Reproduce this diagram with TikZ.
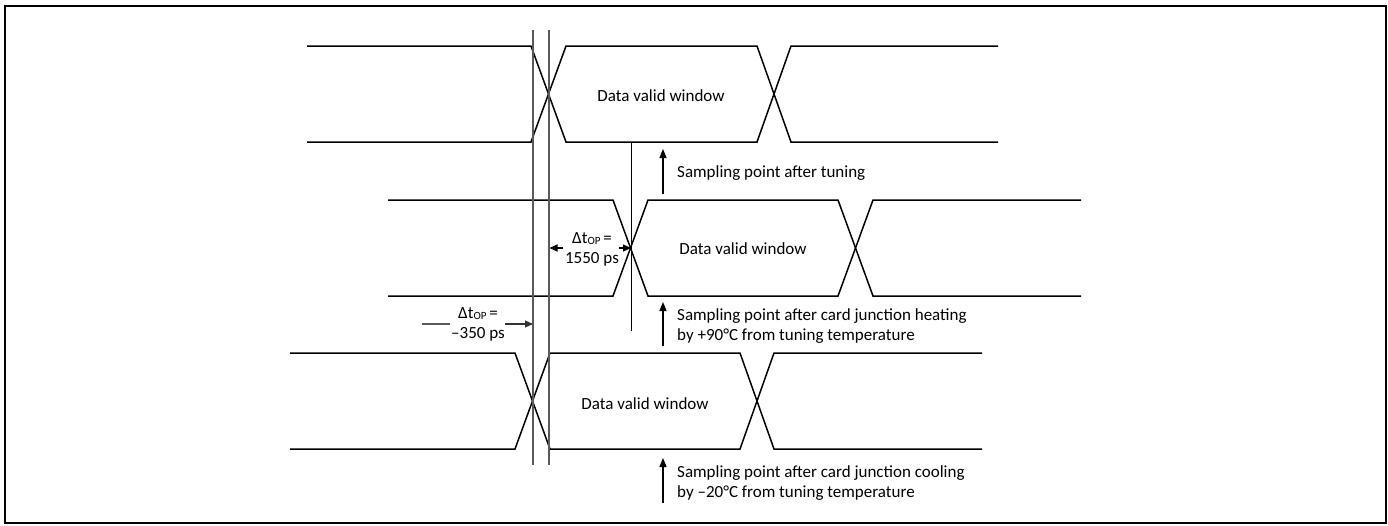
\documentclass[tikz,border=0pt]{standalone}
\usepackage{fontspec}
\setmainfont{Carlito}
\usetikzlibrary{arrows.meta}
\newcommand{\dtop}{Δt\raisebox{-1.5pt}{\fontsize{11}{11}\selectfont OP}\,=}
\begin{document}
\begin{tikzpicture}[x=1pt,y=-1pt,
  sig/.style={line width=1.5pt, line join=miter},
  refl/.style={line width=1.1pt, draw=black!65},
  lbl/.style={font=\fontsize{17}{20.4}\selectfont, inner sep=0pt},
  arr/.style={line width=1.3pt,-{Triangle[length=9pt,width=7pt]}},
  darr/.style={line width=1.1pt,-{Triangle[length=8pt,width=7pt]}}
]
\useasboundingbox (0,0) rectangle (1388,525);
\draw[line width=2pt] (5,6) rectangle (1385.5,523);

% row 1
\draw[sig] (307,46) -- (531,46) -- (566,142) -- (757,142) -- (791,46) -- (998,46);
\draw[sig] (307,142) -- (531,142) -- (566,46) -- (757,46) -- (791,142) -- (998,142);
\node[lbl] (w1) at (661,96) {Data valid window};

% row 2
\draw[sig] (388,200) -- (613,200) -- (648,296) -- (838,296) -- (873,200) -- (1081,200);
\draw[sig] (388,296) -- (613,296) -- (648,200) -- (838,200) -- (873,296) -- (1081,296);
\node[lbl] (w2) at (743,249) {Data valid window};

% row 3
\draw[sig] (290,353) -- (515,353) -- (550,449) -- (740,449) -- (774,353) -- (982,353);
\draw[sig] (290,449) -- (515,449) -- (550,353) -- (740,353) -- (774,449) -- (982,449);
\node[lbl] (w3) at (645,404) {Data valid window};

% reference vertical lines
\coordinate (v1t) at (533,30); \coordinate (v1b) at (533,465);
\coordinate (v2t) at (549,30); \coordinate (v2b) at (549,465);
\draw[refl] (v1t) -- (v1b);
\draw[refl] (v2t) -- (v2b);

% sampling line
\coordinate (st) at (631,142); \coordinate (sb) at (631,331);
\draw[line width=0.9pt] (st) -- (sb);

% sampling arrows and labels
\coordinate (a1b) at (663,194); \coordinate (a1t) at (663,149);
\coordinate (a2b) at (663,346); \coordinate (a2t) at (663,302);
\coordinate (a3b) at (663,503); \coordinate (a3t) at (663,458);
\draw[arr] (a1b) -- (a1t);
\draw[arr] (a2b) -- (a2t);
\draw[arr] (a3b) -- (a3t);
\node[lbl, anchor=west] (s1) at (677,173) {Sampling point after tuning};
\node[lbl, anchor=west, align=left] (s2) at (677,326) {Sampling point after card junction heating\\by +90°C from tuning temperature};
\node[lbl, anchor=west, align=left] (s3) at (677,483) {Sampling point after card junction cooling\\by –20°C from tuning temperature};

% delta t labels
\node[lbl, align=center] (d1) at (592,249.5) {\dtop\\1550 ps};
\coordinate (d1l) at (563,248); \coordinate (d1lt) at (549.5,248);
\coordinate (d1r) at (619,248); \coordinate (d1rt) at (631,248);
\draw[darr] (d1l) -- (d1lt);
\draw[darr] (d1r) -- (d1rt);

\node[lbl, align=center] (d2) at (478,324.5) {\dtop\\–350 ps};
\coordinate (d2l) at (422,324); \coordinate (d2le) at (450,324);
\coordinate (d2r) at (505,324); \coordinate (d2rt) at (533,324);
\draw[line width=1.1pt, draw=black!65] (d2l) -- (d2le);
\draw[darr, draw=black!80] (d2r) -- (d2rt);
\end{tikzpicture}
\end{document}
